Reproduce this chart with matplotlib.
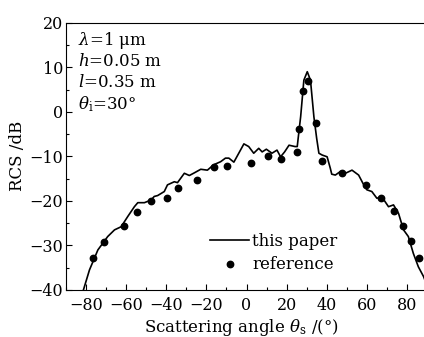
import matplotlib
matplotlib.use('Agg')
import matplotlib.pyplot as plt
from matplotlib.ticker import MultipleLocator

# "this paper" curve
theta = [-82, -78.3, -74.1, -69.2, -65.8, -62.5, -59.2, -55.9, -54.2, -50.9,
         -47.6, -46, -44.3, -41, -39.4, -36, -34.4, -31, -28.5, -26,
         -22.8, -19.5, -16.4, -12.9, -10.5, -8.8, -6.3, -3, -1.3, 1.1,
         3.6, 6.1, 7.8, 9.9, 12.7, 15.2, 17, 19, 21.2, 24.2,
         25.3, 26, 27, 28.6, 30.3, 31.9, 33.6, 35, 36.1, 37.7,
         40.2, 41.8, 42.5, 44.3, 46.8, 49.3, 52.6, 55.9, 58, 60,
         62.5, 65, 67.5, 70.8, 73.3, 75.8, 78.3, 80.7, 83.2, 85.7,
         88.3, 90]
rcs = [-41, -35.5, -31, -28, -26.5, -25.8, -23.5, -21.3, -20.4, -20.4,
       -19.8, -19.0, -18.8, -17.9, -16.4, -15.7, -15.9, -13.8, -14.3, -13.7,
       -12.9, -13.1, -11.9, -11.2, -10.4, -10.4, -11.3, -8.6, -7.2, -7.8,
       -9.3, -8.2, -9.0, -8.4, -9.3, -8.6, -10.1, -9.0, -7.5, -7.8,
       -7.8, -5, -1.1, 7.1, 9.0, 7.1, -1.1, -6, -9.3, -9.7,
       -10.1, -12.7, -14.0, -14.2, -13.4, -13.8, -13.1, -14.2, -16.0, -17.5,
       -17.9, -19.4, -19.1, -21.3, -20.9, -22.8, -26.5, -28.0, -31.8, -34.8,
       -37.0, -39]

# "reference" points
theta_ref = [-76.4, -71, -61.2, -54.6, -47.5, -39.7, -34.1, -24.6, -16.3, -9.7,
             2.0, 10.7, 17.4, 25.0, 26.2, 28.1, 30.8, 34.9, 37.7, 47.6,
             59.6, 67, 73.3, 77.9, 82, 86]
rcs_ref = [-32.9, -29.2, -25.6, -22.6, -20.0, -19.4, -17.0, -15.2, -12.4, -12.2,
           -11.4, -9.9, -10.6, -9.0, -3.9, 4.7, 7.0, -2.6, -11.0, -13.7,
           -16.4, -19.4, -22.3, -25.6, -29, -32.9]

plt.rcParams['font.family'] = 'DejaVu Serif'
plt.rcParams['mathtext.fontset'] = 'dejavuserif'

fig = plt.figure(figsize=(4.24, 3.37), dpi=100)
# axes run a little past the right edge, as in the cropped original
ax = fig.add_axes([66/424, 47/337, 361/424, 267.3/337])

ax.plot(theta, rcs, color='black', lw=1.2, label='this paper')
ax.plot(theta_ref, rcs_ref, 'o', color='black', ms=4.6, label='reference')

ax.set_xlim(-90, 90)
ax.set_ylim(-40, 20)
ax.xaxis.set_major_locator(MultipleLocator(20))
ax.xaxis.set_minor_locator(MultipleLocator(10))
ax.yaxis.set_major_locator(MultipleLocator(10))
ax.yaxis.set_minor_locator(MultipleLocator(5))
ax.tick_params(which='both', direction='in', top=False, right=False,
               labelsize=11.5, width=0.8)
ax.tick_params(which='major', length=4)
ax.tick_params(which='minor', length=2.5)
ax.tick_params(axis='x', pad=5)
ax.tick_params(axis='y', pad=2)

ax.set_ylabel('RCS /dB', fontsize=12)
ax.yaxis.set_label_coords(-0.112, 0.5)
ax.set_xlabel(r'Scattering angle $\theta_\mathrm{s}$ /(°)', fontsize=12)
ax.xaxis.set_label_coords(0.485, -0.102)

info = ['$\\lambda$=1 μm', '$h$=0.05 m', '$l$=0.35 m', '$\\theta_\\mathrm{i}$=30°']
for i, s in enumerate(info):
    ax.text(0.033, 0.935 - i * 0.08, s, transform=ax.transAxes, fontsize=12,
            va='center', ha='left')

ax.legend(loc='lower left', bbox_to_anchor=(0.40, 0.062), frameon=False,
          fontsize=12, handlelength=2.3, handletextpad=0.2, borderpad=0,
          borderaxespad=0, labelspacing=0.4)

fig.savefig('out.png', dpi=100)
